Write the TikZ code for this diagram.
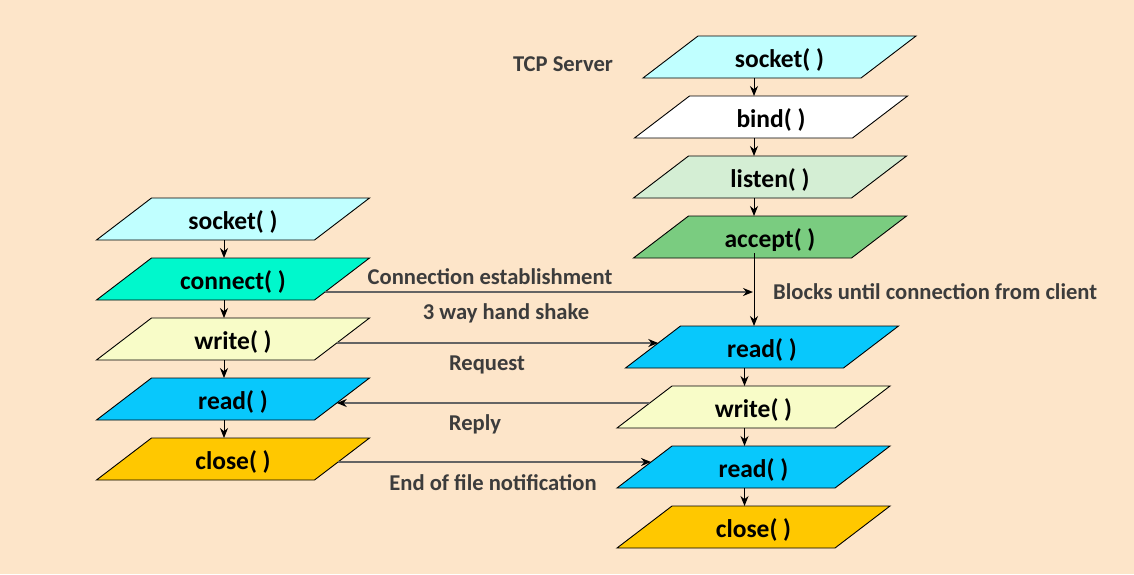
\documentclass[tikz,border=0pt]{standalone}
\usepackage{fontspec}
\setmainfont{Carlito}
\usetikzlibrary{calc,arrows.meta}
\definecolor{bgc}{RGB}{253,229,201}
\definecolor{csock}{RGB}{192,255,255}
\definecolor{cconn}{RGB}{0,248,204}
\definecolor{cwrite}{RGB}{248,252,200}
\definecolor{cread}{RGB}{8,200,252}
\definecolor{cclose}{RGB}{255,200,0}
\definecolor{clisten}{RGB}{212,238,212}
\definecolor{caccept}{RGB}{122,204,128}
\definecolor{ctext}{RGB}{60,60,60}
\definecolor{cline}{RGB}{100,100,100}
\tikzset{
  boxline/.style={draw=black,line width=0.9pt},
  boxtext/.style={inner sep=0pt,outer sep=0pt,minimum width=160pt,minimum height=42pt,font=\fontsize{25.5}{30}\selectfont\bfseries,text=black},
  flow/.style={draw=black,line width=1pt,-{Stealth[length=10pt,width=8pt]}},
  msg/.style={draw=cline,line width=1.8pt,-{Stealth[length=10pt,width=8pt,color=black]}},
  lbl/.style={inner sep=0pt,anchor=base,font=\fontsize{22.6}{27}\selectfont\bfseries,text=ctext}
}
\newcommand{\pbox}[5]{%
  \filldraw[boxline,fill=#4] (#2-136.5,#3+21) -- (#2+81.5,#3+21) -- (#2+136.5,#3-21) -- (#2-81.5,#3-21) -- cycle;
  \coordinate (#1-bl) at (#2-136.5,#3+21);
  \coordinate (#1-br) at (#2+81.5,#3+21);
  \coordinate (#1-tr) at (#2+136.5,#3-21);
  \coordinate (#1-tl) at (#2-81.5,#3-21);
  \node[boxtext] (#1) at (#2,#3) {};
  \node[boxtext,minimum height=0pt,anchor=base] (#1-t) at (#2,#3+10.5) {#5};
}
\begin{document}
\begin{tikzpicture}[x=1pt,y=-1pt]
\fill[bgc] (0,0) rectangle (1134,574);
\useasboundingbox (0,0) rectangle (1134,574);
% client column
\pbox{cs}{233}{219}{csock}{socket( )}
\pbox{cc}{233}{279}{cconn}{connect( )}
\pbox{cw}{233}{339}{cwrite}{write( )}
\pbox{cr}{233}{399}{cread}{read( )}
\pbox{cx}{233}{459}{cclose}{close( )}
% server column
\pbox{ss}{779.5}{57}{csock}{socket( )}
\pbox{sb}{771}{117}{white}{bind( )}
\pbox{sl}{770}{177}{clisten}{listen( )}
\pbox{sa}{770}{237}{caccept}{accept( )}
\pbox{sr}{762}{347}{cread}{read( )}
\pbox{sw}{753.5}{407}{cwrite}{write( )}
\pbox{sr2}{753.5}{467}{cread}{read( )}
\pbox{sx}{753.5}{527}{cclose}{close( )}
% client flow
\draw[flow] ([xshift=-9pt]cs.south) -- ([xshift=-9pt]cc.north);
\draw[flow] ([xshift=-9pt]cc.south) -- ([xshift=-9pt]cw.north);
\draw[flow] ([xshift=-9pt]cw.south) -- ([xshift=-9pt]cr.north);
\draw[flow] ([xshift=-9pt]cr.south) -- ([xshift=-9pt]cx.north);
% server flow
\draw[flow] ([xshift=-25.5pt]ss.south) -- ([xshift=-17pt]sb.north);
\draw[flow] ([xshift=-17pt]sb.south) -- ([xshift=-16pt]sl.north);
\draw[flow] ([xshift=-16pt]sl.south) -- ([xshift=-16pt]sa.north);
\draw[flow] ([xshift=-16pt]sa.south) ++(0,-5) -- ([xshift=-8pt]sr.north);
\draw[flow] ([xshift=-17.5pt]sr.south) -- ([xshift=-9pt]sw.north);
\draw[flow] ([xshift=-9pt]sw.south) -- ([xshift=-9pt]sr2.north);
\draw[flow] ([xshift=-9pt]sr2.south) -- ([xshift=-9pt]sx.north);
% messages
\coordinate (join) at (753,292);
\draw[msg] ($(cc-tr)!0.81!(cc-br)$) -- (join);
\draw[msg] ($(cw-tr)!0.595!(cw-br)$) -- ($(sr-tl)!0.405!(sr-bl)$);
\draw[msg] ($(sw-tl)!0.405!(sw-bl)$) -- ($(cr-tr)!0.595!(cr-br)$);
\draw[msg] ($(cx-tr)!0.571!(cx-br)$) -- ($(sr2-tl)!0.381!(sr2-bl)$);
% labels
\node[lbl] (tcp) at (563,71) {TCP Server};
\node[lbl] (l1) at (490,284) {Connection establishment};
\node[lbl] (l2) at (506,319) {3 way hand shake};
\node[lbl,anchor=base west] (l3) at (773,299) {Blocks until connection from client};
\node[lbl] (l4) at (487,370) {Request};
\node[lbl] (l5) at (475,430) {Reply};
\node[lbl] (l6) at (493,490) {End of file notification};
\end{tikzpicture}
\end{document}
